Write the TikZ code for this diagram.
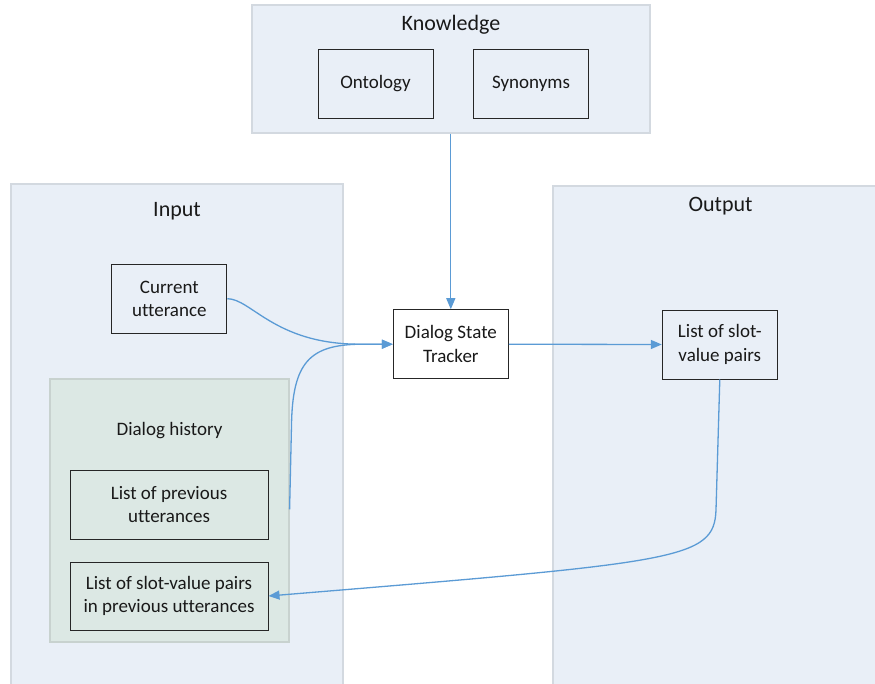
\documentclass[tikz,border=0pt]{standalone}
\usepackage{fontspec}
\setmainfont{Carlito}[Ligatures=NoCommon]
\usetikzlibrary{arrows.meta,calc}
\definecolor{contfill}{HTML}{E9EFF7}
\definecolor{contline}{HTML}{D3D9E0}
\definecolor{histfill}{HTML}{DCE8E4}
\definecolor{histline}{HTML}{C8D2CF}
\definecolor{arrowblue}{HTML}{5B9BD5}
\definecolor{boxline}{HTML}{262626}
\tikzset{
  container/.style={draw=contline, fill=contfill, line width=1.2pt, inner sep=0pt},
  histbox/.style={draw=histline, fill=histfill, line width=1.2pt, inner sep=0pt},
  procbox/.style={draw=boxline, line width=1pt, align=center, inner sep=2pt,
    font=\fontsize{19}{23.5}\selectfont, text=black!90},
  title/.style={font=\fontsize{22}{26}\selectfont, text=black!90, inner sep=0pt},
  label/.style={font=\fontsize{19}{23.5}\selectfont, text=black!90, inner sep=0pt},
  conn/.style={draw=arrowblue, line width=1.3pt, -{Triangle[length=11pt,width=9pt]}}
}
\begin{document}
\begin{tikzpicture}[x=1pt,y=-1pt]
\useasboundingbox (0,0) rectangle (875,683);
\clip (0,0) rectangle (875,683);
\fill[white] (0,0) rectangle (875,683);
% containers
\node[container, minimum width=398pt, minimum height=128pt] (know) at (451,69) {};
\node[container, minimum width=332pt, minimum height=516pt] (input) at (177,442) {};
\node[container, minimum width=335pt, minimum height=504pt] (output) at (720.5,438) {};
\node[histbox, minimum width=239pt, minimum height=263pt] (hist) at (169.5,510.5) {};
% titles
\node[title] (knowt) at (451,25) {Knowledge};
\node[title] (inputt) at (177,211) {Input};
\node[title] (outputt) at (720.5,206) {Output};
\node[label] (histt) at (169.5,431) {Dialog history};
% boxes
\node[procbox, minimum width=115pt, minimum height=69pt] (onto) at (375.5,83.5) {Ontology};
\node[procbox, minimum width=115pt, minimum height=69pt] (syn) at (531,83.5) {Synonyms};
\node[procbox, minimum width=115pt, minimum height=69pt] (cu) at (169.3,298.7) {Current\\utterance};
\node[procbox, minimum width=198pt, minimum height=69pt] (prev) at (169,504.5) {List of previous\\utterances};
\node[procbox, minimum width=198pt, minimum height=68pt] (slotprev) at (169,596) {List of slot-value pairs\\in previous utterances};
\node[procbox, fill=white, minimum width=115pt, minimum height=69pt] (dst) at (450.8,344.2) {Dialog State\\Tracker};
\node[procbox, minimum width=115pt, minimum height=69pt] (outlist) at (719.8,344.5) {List of slot-\\value pairs};
% connectors
\draw[conn] (know.south -| dst.north) -- (dst.north);
\draw[conn] (dst.east) -- (outlist.west);
\coordinate (cuend) at ($(dst.west)+(-33,0)$);
\draw[conn] (cu.east) .. controls +(24,0) and +(-85,0) .. (cuend) -- (dst.west);
\coordinate (histout) at ($(hist.north east)+(0,131)$);
\coordinate (histbend) at (291.5,425);
\draw[conn] (histout) -- (histbend) .. controls (292.5,362) and (310,345) .. (cuend) -- (dst.west);
\coordinate (outbend) at (716,510);
\draw[conn] (outlist.south) -- (outbend) .. controls (714,560) and (680,562) .. (slotprev.east);
\end{tikzpicture}
\end{document}
